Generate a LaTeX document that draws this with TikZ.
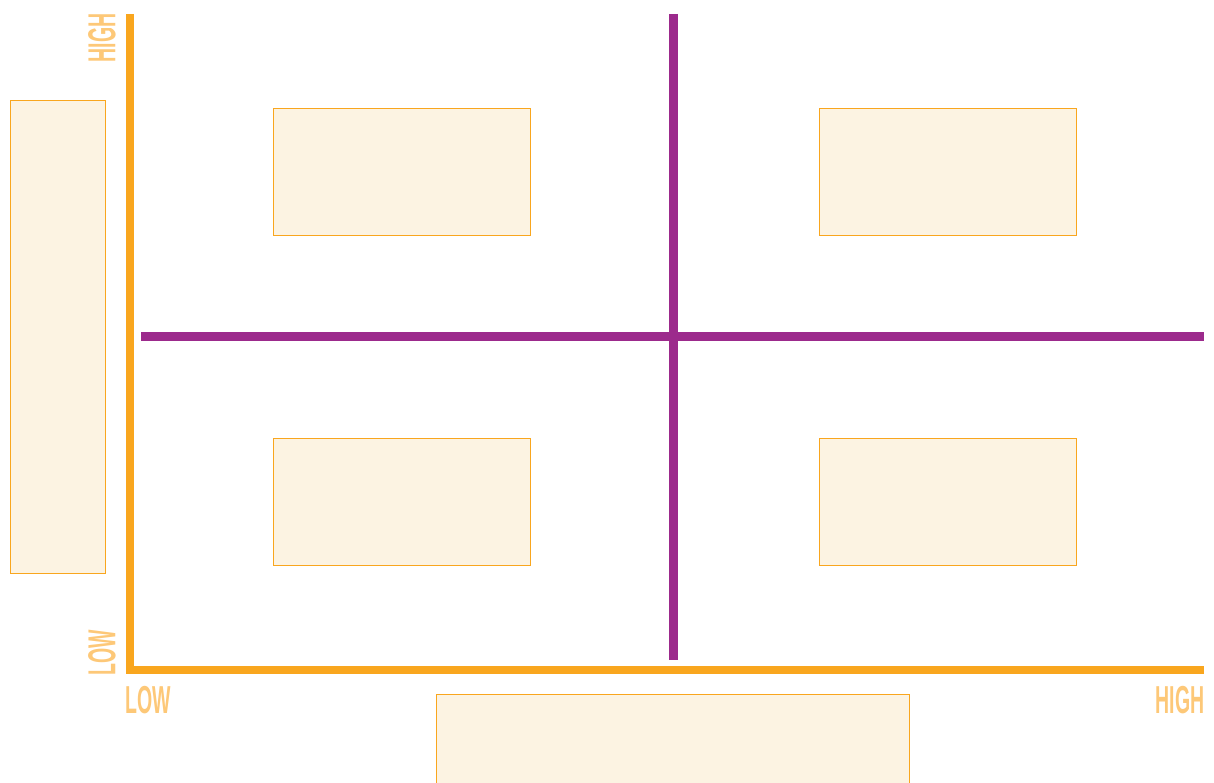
\documentclass[tikz,border=0pt]{standalone}
\usepackage{fontspec}
\setmainfont{Liberation Sans}
\usepackage{tikz}
\usetikzlibrary{positioning}

\definecolor{axisorange}{HTML}{F9A61E}
\definecolor{labelorange}{HTML}{FDC878}
\definecolor{boxfill}{HTML}{FCF3E2}
\definecolor{splitpurple}{HTML}{9C2A8C}

\newcommand{\axlabel}[1]{\scalebox{0.5}[1]{\fontsize{39}{39}\selectfont\bfseries #1}}

\begin{document}
\begin{tikzpicture}[
  x=1pt, y=-1pt,
  quadbox/.style={rectangle, draw=axisorange, fill=boxfill, line width=1.2pt, anchor=north west, inner sep=0pt, minimum width=257pt, minimum height=127pt},
  axislbl/.style={text=labelorange, inner sep=0pt},
  axisline/.style={draw=axisorange, line width=8pt},
  splitline/.style={draw=splitpurple, line width=9pt},
]
\useasboundingbox (0,0) rectangle (1214,783);

% Quadrant boxes
\node[quadbox] (tl) at (273,108) {};
\node[quadbox] (tr) at (819,108) {};
\node[quadbox] (bl) at (273,438) {};
\node[quadbox] (br) at (819,438) {};

% Axis title boxes
\node[quadbox, minimum width=95pt, minimum height=473pt] (ytitle) at (10,100) {};
\node[quadbox, minimum width=473pt, minimum height=100pt] (xtitle) at (436,694) {};

% Axes
\draw[axisline] (130,14) |- (1204,670);

% Quadrant dividers
\draw[splitline] (673,14) -- (673,660);
\draw[splitline] (141,336.5) -- (1204,336.5);

% Axis labels
\node[axislbl, rotate=90] (yhigh) at (102,38) {\axlabel{HIGH}};
\node[axislbl, rotate=90] (ylow) at (102,653) {\axlabel{LOW}};
\node[axislbl] (xlow) at (148,700) {\axlabel{LOW}};
\node[axislbl] (xhigh) at (1180,700) {\axlabel{HIGH}};
\end{tikzpicture}
\end{document}
